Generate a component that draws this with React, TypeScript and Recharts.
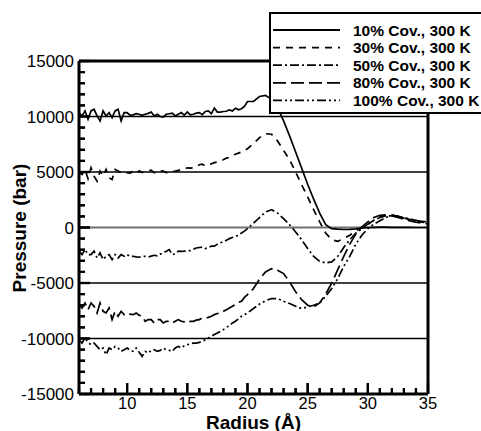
import React from 'react';
import { LineChart, Line, XAxis, YAxis, ReferenceLine } from 'recharts';

// Radius grid (Å)
const radius = [
  6, 6.25, 6.5, 6.75, 7, 7.25, 7.5, 7.75, 8, 8.25, 8.5, 8.75, 9, 9.25, 9.5, 9.75,
  10, 10.25, 10.5, 10.75, 11, 11.25, 11.5, 11.75, 12, 12.25, 12.5, 12.75, 13, 13.25, 13.5, 13.75,
  14, 14.25, 14.5, 14.75, 15, 15.25, 15.5, 15.75, 16, 16.25, 16.5, 16.75, 17, 17.25, 17.5, 17.75,
  18, 18.25, 18.5, 18.75, 19, 19.25, 19.5, 19.75, 20,
  20.5, 21, 21.5, 22, 22.5, 23, 23.5, 24, 24.5, 25, 25.5, 26, 26.5, 27, 27.5, 28, 28.5, 29, 29.5, 30,
  30.5, 31, 31.5, 32, 32.5, 33, 33.5, 34, 34.5, 35,
];

// Pressure (bar) per coverage
const p10 = [
  10350, 10050, 10500, 9750, 10500, 10650, 10050, 9600, 10500, 10050, 10350, 9900, 10500, 10650, 9600, 10350,
  10350, 10100, 10150, 10250, 10200, 10100, 10200, 10280, 10400, 10050, 10200, 10000, 9950, 10200, 10250, 10300,
  10050, 10200, 10350, 10120, 10400, 10150, 10200, 10300, 10350, 10170, 10450, 10500, 10250, 10750, 10400, 10400,
  10450, 10470, 10600, 10500, 10750, 10600, 10700, 10900, 11350,
  11350, 11800, 11900, 11550, 10800, 9600, 8250, 6800, 5350, 3900, 2550, 1300, 250, -100, -150, -180, -170, -120, -50, 0,
  20, 30, 30, 20, 20, 10, 10, 0, 0, 0,
];
const p30 = [
  4990, 4780, 5230, 4400, 5380, 4630, 4180, 5080, 4630, 5230, 4480, 4330, 5230, 5080, 4930, 4850,
  4950, 4900, 5050, 4850, 5100, 4950, 5050, 5100, 5170, 4950, 4930, 5100, 5080, 4950, 4930, 5050,
  5080, 5150, 5230, 5250, 5380, 5350, 5380, 5500, 5650, 5700, 5550, 5600, 5750, 5840, 5900, 6050,
  6100, 6250, 6300, 6500, 6600, 6700, 6800, 6950, 7100,
  7550, 8100, 8450, 8400, 7800, 6950, 6100, 5000, 3850, 2750, 1600, 500, -500, -1100, -1250, -1000, -700, -300, 0, 300,
  650, 950, 1100, 1150, 1000, 850, 700, 580, 480, 420,
];
const p50 = [
  -2130, -2440, -1990, -2440, -2440, -2130, -2740, -2290, -2890, -2590, -2440, -2890, -2440, -2740, -2440, -2590,
  -2440, -2600, -2590, -2650, -2680, -2600, -2590, -2650, -2580, -2500, -2550, -2400, -2290, -2130, -1990, -2440,
  -2380, -2130, -2150, -2130, -2100, -2080, -1950, -1850, -1800, -1770, -1900, -1800, -1680, -1680, -1500, -1380,
  -1280, -1150, -1000, -900, -800, -700, -500, -330, -100,
  400, 900, 1400, 1600, 1300, 800, 250, -400, -1100, -1900, -2600, -3050, -3200, -3100, -2600, -1800, -1100, -500, -100, 300,
  650, 900, 1050, 1050, 1000, 900, 780, 650, 530, 450,
];
const p80 = [
  -6950, -7250, -6800, -7400, -6800, -7100, -7700, -6800, -7550, -7700, -7250, -8300, -7550, -8000, -7550, -7850,
  -7700, -7800, -7850, -7700, -7900, -8000, -8450, -8300, -8300, -8600, -8300, -8300, -8600, -8450, -8450, -8600,
  -8450, -8300, -8450, -8500, -8600, -8450, -8450, -8350, -8300, -8150, -8150, -8100, -8000, -7850, -7750, -7700,
  -7550, -7400, -7250, -7100, -6950, -6750, -6650, -6300, -6050,
  -5500, -4650, -4000, -3700, -3850, -4150, -4900, -5800, -6500, -7000, -7150, -6800, -6000, -5000, -3800, -2600, -1500, -600, 50, 500,
  900, 1100, 1150, 1050, 900, 750, 600, 480, 400, 350,
];
const p100 = [
  -10110, -10410, -9960, -10350, -10560, -10410, -10710, -11010, -10860, -11460, -10860, -11010, -10710, -10860, -11160, -11010,
  -10860, -11070, -11160, -10860, -11250, -11610, -11160, -11310, -11070, -11010, -11160, -11070, -10860, -11010, -11070, -11160,
  -10860, -10710, -10860, -10650, -10560, -10470, -10410, -10410, -10350, -10260, -10110, -9960, -9800, -9650, -9500, -9350,
  -9200, -8990, -8840, -8600, -8450, -8240, -8000, -7850, -7700,
  -7300, -6900, -6600, -6400, -6400, -6650, -6850, -7100, -7300, -7150, -7000, -6800, -6200, -5500, -4600, -3500, -2600, -1500, -700, -100,
  300, 600, 900, 1100, 1000, 850, 720, 620, 550, 500,
];

const seriesKeys = ['p10', 'p30', 'p50', 'p80', 'p100'];
const seriesNames = ['10% Cov., 300 K', '30% Cov., 300 K', '50% Cov., 300 K', '80% Cov., 300 K', '100% Cov., 300 K'];
const seriesDash = ['', '7 6', '9 3 2 3', '13 5', '9 3 2 3 2 3'];

const xTicks = [6, 7, 8, 9, 10, 11, 12, 13, 14, 15, 16, 17, 18, 19, 20, 21, 22, 23, 24, 25, 26, 27, 28, 29, 30, 31, 32, 33, 34, 35];
const xLabels = [10, 15, 20, 25, 30, 35];
const yTicks = [
  -15000, -14000, -13000, -12000, -11000, -10000, -9000, -8000, -7000, -6000, -5000, -4000, -3000, -2000, -1000,
  0, 1000, 2000, 3000, 4000, 5000, 6000, 7000, 8000, 9000, 10000, 11000, 12000, 13000, 14000, 15000,
];
const yLabels = [-15000, -10000, -5000, 0, 5000, 10000, 15000];
const gridValues = [-10000, -5000, 5000, 10000];

const X_MIN = 6;
const X_MAX = 35;
const Y_MIN = -15000;
const Y_MAX = 15000;

// inward tick lengths in axis units (about 11px / 6px)
const X_TICK_MAJOR = 990;
const X_TICK_MINOR = 540;
const Y_TICK_MAJOR = 0.9;
const Y_TICK_MINOR = 0.5;

const data = radius.map((r, i) => ({ r, p10: p10[i], p30: p30[i], p50: p50[i], p80: p80[i], p100: p100[i] }));

const FONT = '"Liberation Sans", Arial, Helvetica, sans-serif';

const XTick = (props: any) => {
  const { x, y, payload } = props;
  const major = xLabels.includes(payload.value);
  return (
    <g>
      <line x1={x} x2={x} y1={y} y2={y - (major ? 11 : 6)} stroke="#000" strokeWidth={2.2} />
      {major && (
        <text x={x} y={y + 15} textAnchor="middle" fontFamily={FONT} fontSize={16.5} fill="#000">
          {payload.value}
        </text>
      )}
    </g>
  );
};

const YTick = (props: any) => {
  const { x, y, payload } = props;
  const major = yLabels.includes(payload.value);
  return (
    <g>
      <line x1={x} x2={x + (major ? 11 : 6)} y1={y} y2={y} stroke="#000" strokeWidth={2.2} />
      {major && (
        <text x={x - 5} y={y + 6} textAnchor="end" fontFamily={FONT} fontSize={17} fill="#000">
          {payload.value}
        </text>
      )}
    </g>
  );
};

const Legend = () => (
  <svg style={{ position: 'absolute', left: 269, top: 12 }} width={212} height={103}>
    <rect x={1} y={1} width={240} height={100} fill="#fff" stroke="#000" strokeWidth={2} />
    {seriesNames.map((name, i) => {
      const cy = 18 + i * 17.6;
      return (
        <g key={name}>
          <line x1={4} x2={71} y1={cy} y2={cy} stroke="#000" strokeWidth={1.8} strokeDasharray={seriesDash[i] || undefined} />
          <text x={84} y={cy + 5.5} fontFamily={FONT} fontWeight="bold" fontSize={15.5} fill="#000">
            {name}
          </text>
        </g>
      );
    })}
  </svg>
);

export default function App() {
  return (
    <div style={{ position: 'absolute', left: 0, top: 0, width: 481, height: 431, overflow: 'hidden', background: '#fff' }}>
      <LineChart width={481} height={431} data={data} margin={{ top: 61, right: 53, bottom: 0, left: 0 }}>
        <XAxis
          dataKey="r"
          type="number"
          domain={[X_MIN, X_MAX]}
          ticks={xTicks}
          interval={0}
          allowDataOverflow
          height={37}
          tickSize={0}
          tickMargin={0}
          tickLine={false}
          tick={<XTick />}
          axisLine={{ stroke: '#000', strokeWidth: 3 }}
          label={{
            content: () => (
              <text x={253.5} y={428.5} textAnchor="middle" fontFamily={FONT} fontWeight="bold" fontSize={19} fill="#000">
                Radius (Å)
              </text>
            ),
          }}
        />
        <YAxis
          type="number"
          domain={[Y_MIN, Y_MAX]}
          ticks={yTicks}
          interval={0}
          allowDataOverflow
          width={79}
          tickSize={0}
          tickMargin={0}
          tickLine={false}
          tick={<YTick />}
          axisLine={{ stroke: '#000', strokeWidth: 3 }}
          label={{
            content: () => (
              <text
                x={26}
                y={228}
                transform="rotate(-90 26 228)"
                textAnchor="middle"
                fontFamily={FONT}
                fontWeight="bold"
                fontSize={19}
                fill="#000"
              >
                Pressure (bar)
              </text>
            ),
          }}
        />
        {gridValues.map((v) => (
          <ReferenceLine key={'g' + v} y={v} stroke="#000" strokeWidth={1.4} ifOverflow="visible" />
        ))}
        <ReferenceLine y={0} stroke="#707070" strokeWidth={2} ifOverflow="visible" />
        {xTicks.map((t) => (
          <ReferenceLine
            key={'xt' + t}
            ifOverflow="visible"
            segment={[
              { x: t, y: Y_MIN },
              { x: t, y: Y_MIN + (xLabels.includes(t) ? X_TICK_MAJOR : X_TICK_MINOR) },
            ]}
            stroke="#000"
            strokeWidth={2.2}
          />
        ))}
        {yTicks.map((t) => (
          <ReferenceLine
            key={'yt' + t}
            ifOverflow="visible"
            segment={[
              { x: X_MIN, y: t },
              { x: X_MIN + (yLabels.includes(t) ? Y_TICK_MAJOR : Y_TICK_MINOR), y: t },
            ]}
            stroke="#000"
            strokeWidth={2.2}
          />
        ))}
        <ReferenceLine y={Y_MAX} stroke="#000" strokeWidth={3} ifOverflow="visible" />
        <ReferenceLine x={X_MAX} stroke="#000" strokeWidth={3} ifOverflow="visible" />
        {seriesKeys.map((k, i) => (
          <Line
            key={k}
            dataKey={k}
            name={seriesNames[i]}
            stroke="#000"
            strokeWidth={1.7}
            strokeDasharray={seriesDash[i] || undefined}
            dot={false}
            activeDot={false}
            type="linear"
            isAnimationActive={false}
          />
        ))}
      </LineChart>
      <Legend />
    </div>
  );
}
